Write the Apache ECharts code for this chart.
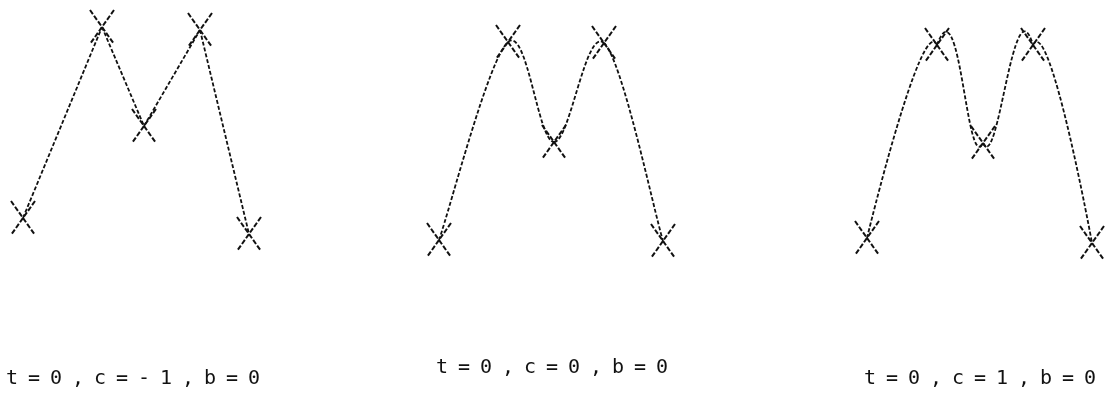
<!DOCTYPE html>
<html>
<head>
<meta charset="utf-8">
<script src="https://cdn.jsdelivr.net/npm/echarts@6/dist/echarts.min.js"></script>
<style>
  html, body { margin: 0; padding: 0; background: #fff; }
  #chart { width: 1107px; height: 399px; }
</style>
</head>
<body>
<div id="chart"></div>
<script>
// Key points of each spline (x to the right, y upward)
const keysX1 = [0, 79, 121, 177, 226];
const keysY1 = [16, 207, 108, 204, 0];
const keysX2 = [0, 69, 115, 165, 224];
const keysY2 = [1, 199, 99, 198, 0];
const keysX3 = [0, 70, 116, 166, 225];
const keysY3 = [5, 198, 100, 198, 0];

// Kochanek–Bartels parameters of each panel: tension, continuity, bias
const tension = [0, 0, 0];
const continuity = [-1, 0, 1];
const bias = [0, 0, 0];

const captions = ['t=0,c=-1,b=0', 't=0,c=0,b=0', 't=0,c=1,b=0'];

const INK = '#111';
const curveStyle = { stroke: INK, lineWidth: 1.8, lineDash: [4, 2], fill: null };
const crossStyle = { stroke: INK, lineWidth: 2, lineDash: [5, 2], fill: null };

// Hermite segments between keys, drawn as cubic Béziers, plus an X on each key
function splineSeries(idx, xs, ys) {
  const t = tension[idx], c = continuity[idx], b = bias[idx];
  return {
    type: 'custom',
    xAxisIndex: idx,
    yAxisIndex: idx,
    clip: false,
    silent: true,
    data: xs.map((x, i) => [x, ys[i]]),
    encode: { x: 0, y: 1 },
    renderItem: function (params, api) {
      const i = params.dataIndex;
      const P = xs.map((x, k) => api.coord([x, ys[k]]));
      const n = P.length;
      const at = k => P[Math.max(0, Math.min(n - 1, k))];
      const sub = (p, q) => [p[0] - q[0], p[1] - q[1]];
      // tangent leaving key k
      const outTan = k => {
        const d0 = sub(at(k), at(k - 1)), d1 = sub(at(k + 1), at(k));
        const a = (1 - t) * (1 + b) * (1 + c) / 2;
        const e = (1 - t) * (1 - b) * (1 - c) / 2;
        return [a * d0[0] + e * d1[0], a * d0[1] + e * d1[1]];
      };
      // tangent arriving at key k
      const inTan = k => {
        const d0 = sub(at(k), at(k - 1)), d1 = sub(at(k + 1), at(k));
        const a = (1 - t) * (1 + b) * (1 - c) / 2;
        const e = (1 - t) * (1 - b) * (1 + c) / 2;
        return [a * d0[0] + e * d1[0], a * d0[1] + e * d1[1]];
      };
      const p = P[i];
      const hw = 12, hh = 17;
      const children = [
        { type: 'line', shape: { x1: p[0] - hw, y1: p[1] - hh, x2: p[0] + hw, y2: p[1] + hh }, style: crossStyle },
        { type: 'line', shape: { x1: p[0] + hw, y1: p[1] - hh, x2: p[0] - hw, y2: p[1] + hh }, style: crossStyle }
      ];
      if (i < n - 1) {
        const q = P[i + 1];
        const to = outTan(i), ti = inTan(i + 1);
        children.push({
          type: 'bezierCurve',
          shape: {
            x1: p[0], y1: p[1], x2: q[0], y2: q[1],
            cpx1: p[0] + to[0] / 3, cpy1: p[1] + to[1] / 3,
            cpx2: q[0] - ti[0] / 3, cpy2: q[1] - ti[1] / 3
          },
          style: curveStyle
        });
      }
      return { type: 'group', children: children };
    }
  };
}

// each character in its own fixed-width cell
const cells = s => s.split('').map(ch => '{c|' + ch + '}').join('');

const grids = [
  { left: 23, top: 34, width: 225, height: 200 },
  { left: 439, top: 41, width: 225, height: 200 },
  { left: 867, top: 43, width: 225, height: 200 }
];
const capPos = [[1, 369], [431, 358], [859, 369]];

const hiddenAxis = (i, max) => ({
  type: 'value', gridIndex: i, min: 0, max: max, show: false,
  splitLine: { show: false }
});

const chart = echarts.init(document.getElementById('chart'), null, { renderer: 'canvas' });
chart.setOption({
  animation: false,
  backgroundColor: '#fff',
  grid: grids,
  xAxis: [0, 1, 2].map(i => hiddenAxis(i, 225)),
  yAxis: [0, 1, 2].map(i => hiddenAxis(i, 200)),
  title: captions.map((s, i) => ({
    text: cells(s),
    left: capPos[i][0],
    top: capPos[i][1],
    padding: 0,
    textStyle: {
      fontWeight: 'normal',
      rich: {
        c: {
          width: 22, align: 'center', fontFamily: 'DejaVu Sans Mono',
          fontSize: 20, fontWeight: 'normal', color: INK
        }
      }
    }
  })),
  series: [
    splineSeries(0, keysX1, keysY1),
    splineSeries(1, keysX2, keysY2),
    splineSeries(2, keysX3, keysY3)
  ]
});
</script>
</body>
</html>
